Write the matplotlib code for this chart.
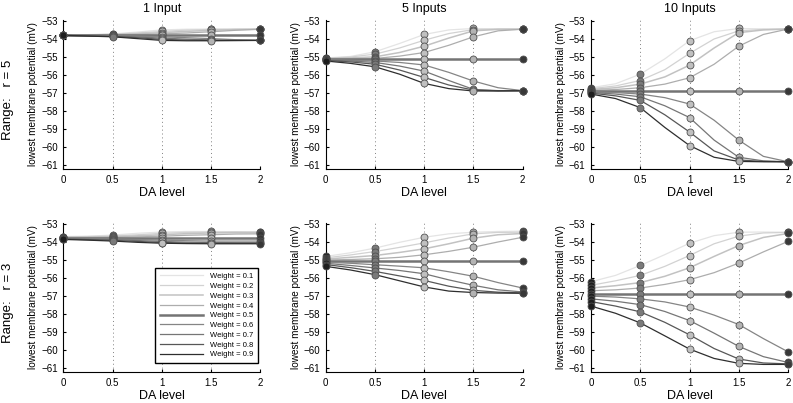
import matplotlib
matplotlib.use("Agg")
import matplotlib.pyplot as plt

plt.rcParams.update({
    "font.family": ["Liberation Sans", "DejaVu Sans"],
    "axes.linewidth": 0.8,
    "xtick.direction": "in", "ytick.direction": "in",
    "xtick.major.size": 2.5, "ytick.major.size": 2.5,
    "xtick.labelsize": 7, "ytick.labelsize": 7,
})

# ── Data ──────────────────────────────────────────────────────────────────────
x_curve   = [0, 0.25, 0.5, 0.75, 1.0, 1.25, 1.5, 1.75, 2.0]
da_levels = [0, 0.5, 1.0, 1.5, 2.0]
weights   = [0.1, 0.2, 0.3, 0.4, 0.5, 0.6, 0.7, 0.8, 0.9]
col_titles = ["1 Input", "5 Inputs", "10 Inputs"]
row_labels = ["Range:   r = 5", "Range:   r = 3"]

# one row per weight, sampled at x_curve (markers sit on every second sample)
r5_1in = [
    [-53.78, -53.76, -53.72, -53.62, -53.50, -53.46, -53.45, -53.45, -53.46],
    [-53.78, -53.77, -53.74, -53.67, -53.58, -53.51, -53.47, -53.46, -53.46],
    [-53.78, -53.78, -53.76, -53.71, -53.65, -53.58, -53.52, -53.48, -53.46],
    [-53.78, -53.78, -53.78, -53.76, -53.72, -53.67, -53.60, -53.52, -53.46],
    [-53.79, -53.79, -53.79, -53.79, -53.79, -53.79, -53.79, -53.79, -53.79],
    [-53.80, -53.81, -53.82, -53.84, -53.88, -53.93, -53.98, -54.04, -54.08],
    [-53.80, -53.82, -53.84, -53.89, -53.95, -54.01, -54.05, -54.07, -54.08],
    [-53.80, -53.83, -53.86, -53.93, -54.02, -54.06, -54.08, -54.08, -54.08],
    [-53.80, -53.84, -53.88, -53.98, -54.08, -54.10, -54.10, -54.09, -54.08],
]
r5_5in = [
    [-55.05, -54.97, -54.71, -54.25, -53.75, -53.50, -53.42, -53.44, -53.46],
    [-55.07, -55.00, -54.84, -54.50, -54.07, -53.70, -53.48, -53.45, -53.46],
    [-55.09, -55.05, -54.99, -54.75, -54.40, -53.95, -53.55, -53.47, -53.46],
    [-55.11, -55.10, -55.08, -54.95, -54.75, -54.35, -53.88, -53.55, -53.46],
    [-55.13, -55.13, -55.13, -55.13, -55.13, -55.13, -55.13, -55.13, -55.13],
    [-55.15, -55.18, -55.22, -55.30, -55.44, -55.85, -56.33, -56.70, -56.86],
    [-55.17, -55.22, -55.30, -55.50, -55.78, -56.30, -56.79, -56.86, -56.86],
    [-55.19, -55.27, -55.40, -55.72, -56.13, -56.55, -56.83, -56.87, -56.87],
    [-55.22, -55.35, -55.54, -55.95, -56.46, -56.75, -56.88, -56.88, -56.87],
]
r5_10in = [
    [-56.70, -56.48, -55.95, -55.10, -54.10, -53.60, -53.42, -53.44, -53.45],
    [-56.75, -56.60, -56.30, -55.70, -54.80, -54.00, -53.55, -53.47, -53.45],
    [-56.80, -56.70, -56.50, -56.10, -55.45, -54.50, -53.65, -53.50, -53.45],
    [-56.85, -56.80, -56.70, -56.50, -56.15, -55.40, -54.40, -53.75, -53.45],
    [-56.88, -56.88, -56.88, -56.88, -56.88, -56.88, -56.88, -56.88, -56.88],
    [-56.92, -56.97, -57.05, -57.25, -57.60, -58.50, -59.60, -60.50, -60.80],
    [-56.96, -57.05, -57.20, -57.70, -58.35, -59.60, -60.55, -60.75, -60.80],
    [-57.00, -57.15, -57.40, -58.20, -59.15, -60.20, -60.70, -60.78, -60.80],
    [-57.05, -57.30, -57.80, -58.90, -59.90, -60.55, -60.78, -60.80, -60.80],
]
r3_1in = [
    [-53.70, -53.68, -53.62, -53.52, -53.45, -53.42, -53.42, -53.43, -53.44],
    [-53.72, -53.70, -53.67, -53.60, -53.52, -53.47, -53.45, -53.45, -53.46],
    [-53.74, -53.73, -53.71, -53.66, -53.60, -53.54, -53.50, -53.48, -53.48],
    [-53.76, -53.76, -53.75, -53.72, -53.68, -53.63, -53.60, -53.56, -53.55],
    [-53.76, -53.76, -53.76, -53.76, -53.76, -53.76, -53.76, -53.76, -53.76],
    [-53.80, -53.81, -53.83, -53.86, -53.90, -53.93, -53.95, -53.95, -53.95],
    [-53.82, -53.84, -53.87, -53.92, -53.97, -54.01, -54.03, -54.04, -54.04],
    [-53.84, -53.87, -53.91, -53.97, -54.03, -54.06, -54.07, -54.07, -54.07],
    [-53.86, -53.90, -53.95, -54.02, -54.07, -54.09, -54.10, -54.10, -54.10],
]
r3_5in = [
    [-54.80, -54.60, -54.34, -54.02, -53.74, -53.55, -53.46, -53.42, -53.40],
    [-54.88, -54.72, -54.53, -54.30, -54.05, -53.78, -53.55, -53.47, -53.46],
    [-54.95, -54.85, -54.75, -54.58, -54.38, -54.10, -53.79, -53.60, -53.53],
    [-55.00, -54.97, -54.93, -54.85, -54.71, -54.52, -54.29, -54.00, -53.74],
    [-55.06, -55.06, -55.06, -55.06, -55.06, -55.06, -55.06, -55.06, -55.06],
    [-55.12, -55.18, -55.26, -55.34, -55.43, -55.65, -55.90, -56.25, -56.55],
    [-55.18, -55.30, -55.44, -55.58, -55.76, -56.10, -56.40, -56.65, -56.77],
    [-55.25, -55.42, -55.63, -55.88, -56.13, -56.45, -56.68, -56.78, -56.82],
    [-55.35, -55.55, -55.81, -56.15, -56.49, -56.72, -56.80, -56.83, -56.84],
]
r3_10in = [
    [-56.20, -55.85, -55.30, -54.70, -54.07, -53.65, -53.46, -53.45, -53.46],
    [-56.40, -56.15, -55.85, -55.35, -54.75, -54.10, -53.68, -53.50, -53.47],
    [-56.55, -56.42, -56.25, -55.90, -55.43, -54.80, -54.20, -53.75, -53.53],
    [-56.70, -56.65, -56.55, -56.35, -56.09, -55.70, -55.17, -54.55, -53.97],
    [-56.88, -56.88, -56.88, -56.88, -56.88, -56.88, -56.88, -56.88, -56.88],
    [-57.00, -57.05, -57.15, -57.32, -57.60, -58.05, -58.57, -59.35, -60.08],
    [-57.15, -57.28, -57.47, -57.85, -58.35, -59.05, -59.78, -60.35, -60.67],
    [-57.30, -57.55, -57.87, -58.45, -59.14, -59.90, -60.48, -60.70, -60.75],
    [-57.55, -57.95, -58.48, -59.20, -59.93, -60.45, -60.72, -60.78, -60.78],
]

# ── Styles ────────────────────────────────────────────────────────────────────
line_colors = ["#e4e4e4", "#d2d2d2", "#c2c2c2", "#adadad", "#747474",
               "#858585", "#767676", "#575757", "#2e2e2e"]
line_widths = [0.9, 0.9, 1.1, 0.9, 1.8, 0.9, 0.9, 0.9, 0.9]
marker_faces = ["#1e1e1e", "#7a7a7a", "#c0c0c0", "#b3b3b3", "#383838"]

W, H = 793, 403
fig = plt.figure(figsize=(W / 100, H / 100), dpi=100)

lefts   = [63.3, 325.7, 591.0]
tops    = [20.0, 223.0]
ax_w, ax_h = 197.0, 149.0

panels = [[r5_1in, r5_5in, r5_10in], [r3_1in, r3_5in, r3_10in]]

for r in range(2):
    for c in range(3):
        ax = fig.add_axes([lefts[c] / W, 1 - (tops[r] + ax_h) / H, ax_w / W, ax_h / H])
        data = panels[r][c]
        for i, w in enumerate(weights):
            ax.plot(x_curve, data[i], color=line_colors[i], lw=line_widths[i],
                    label=f"Weight = {w}", zorder=2)
        for i in range(len(weights)):
            for j, xd in enumerate(da_levels):
                ax.plot(xd, data[i][2 * j], "o", ms=5, mfc=marker_faces[j],
                        mec="#505050", mew=0.6, zorder=3, clip_on=False)

        ax.set_xlim(0, 2)
        ax.set_ylim(-61.2, -52.95)
        ax.set_xticks(da_levels)
        ax.set_xticklabels(["0", "0.5", "1", "1.5", "2"])
        ax.set_yticks(range(-61, -52))
        for xd in da_levels[1:]:
            ax.axvline(xd, color="#808080", lw=0.7, ls=(0, (1, 3)), zorder=1)
        for s in ("top", "right"):
            ax.spines[s].set_visible(False)
        ax.tick_params(pad=4)
        ax.set_xlabel("DA level", fontsize=9, labelpad=1.5)
        ax.set_ylabel("lowest membrane potential (mV)", fontsize=7.2, labelpad=2)
        if r == 0:
            ax.set_title(col_titles[c], fontsize=9, pad=6)
        if c == 0:
            fig.text(8 / W, 1 - (tops[r] + 80) / H, row_labels[r], rotation=90,
                     fontsize=9.5, ha="center", va="center")
        if r == 1 and c == 0:
            ax.legend(loc="lower right", bbox_to_anchor=(0.986, 0.06),
                      borderaxespad=0, fontsize=5.5, handlelength=5.6,
                      handletextpad=0.9, labelspacing=0.32, borderpad=0.6,
                      fancybox=False, framealpha=1, edgecolor="black")

fig.savefig("out.png", dpi=100)
